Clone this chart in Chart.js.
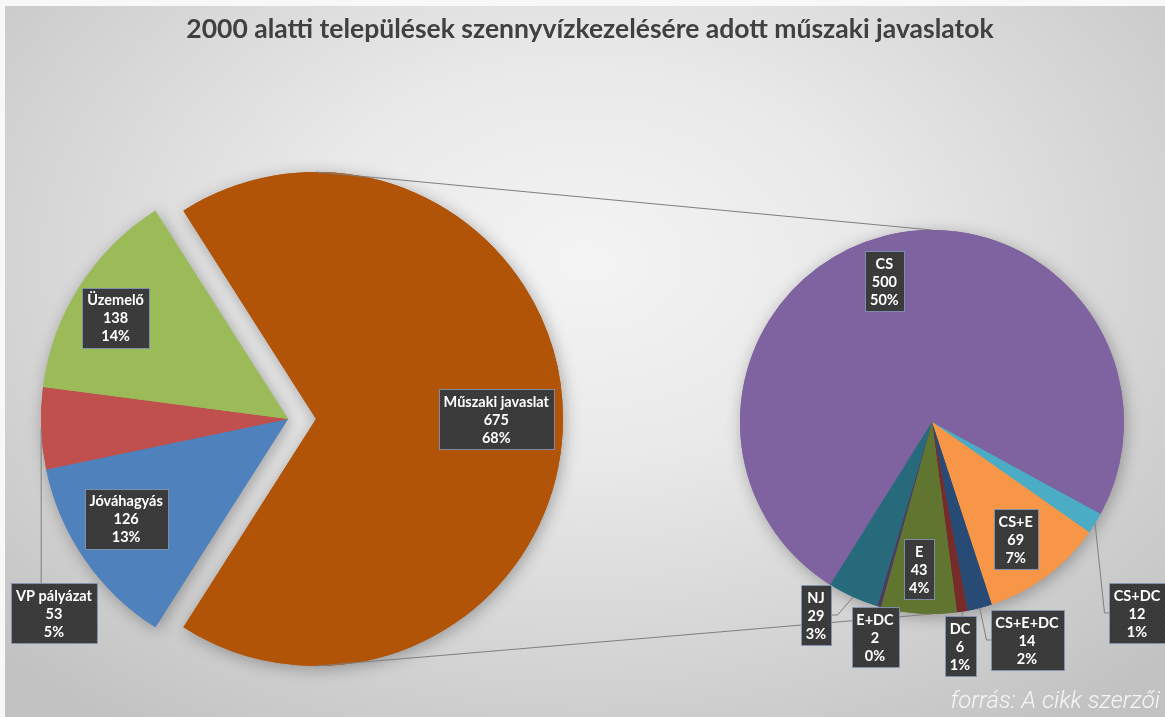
<!DOCTYPE html>
<html lang="hu">
<head>
<meta charset="utf-8">
<title>2000 alatti települések szennyvízkezelésére adott műszaki javaslatok</title>
<script src="https://cdn.jsdelivr.net/npm/chart.js@4.4.1/dist/chart.umd.min.js"></script>
<style>
  html, body { margin: 0; padding: 0; background: #fff; }
  #page { position: relative; width: 1165px; height: 717px; overflow: hidden; background: #f8f8f8; }
  #bg {
    position: absolute; left: 5px; top: 6px; right: 0; bottom: 0;
    background: radial-gradient(ellipse 70% 80% at 50% 36%, #f4f4f4 0%, #e9e9e9 35%, #d3d3d3 72%, #c2c2c2 100%);
  }
  canvas { position: absolute; left: 0; top: 0; }
  #title {
    position: absolute; left: 0; top: 12px; width: 1180px; text-align: center;
    font: bold 26.5px Lato, sans-serif; color: #404040;
  }
  #source {
    position: absolute; right: 5px; bottom: 3px;
    font: italic 300 24px Roboto, sans-serif; color: #f6f6f6;
  }
</style>
</head>
<body>
<div id="page">
  <div id="bg"></div>
  <canvas id="mainPie" width="1165" height="717"></canvas>
  <canvas id="detailPie" width="1165" height="717"></canvas>
  <div id="title">2000 alatti települések szennyvízkezelésére adott műszaki javaslatok</div>
  <div id="source">forrás: A cikk szerzői</div>
</div>
<script>
// ===================== ADATOK =====================
// bal oldali (fő) torta, az óramutató járásával megegyező sorrendben
const mainLabels = ['Műszaki javaslat', 'Jóváhagyás', 'VP pályázat', 'Üzemelő'];
const mainValues = [675, 126, 53, 138];
const mainPercents = ['68%', '13%', '5%', '14%'];

// jobb oldali torta: a "Műszaki javaslat" bontása
const detailLabels = ['CS', 'CS+DC', 'CS+E', 'CS+E+DC', 'DC', 'E', 'E+DC', 'NJ'];
const detailValues = [500, 12, 69, 14, 6, 43, 2, 29];
const detailPercents = ['50%', '1%', '7%', '2%', '1%', '4%', '0%', '3%'];

// ===================== STÍLUS =====================
const mainColors = ['#B25408', '#4F81BD', '#C0504D', '#9BBB59'];
const detailColors = ['#7F62A0', '#4BACC6', '#F79646', '#284B76', '#772C2A', '#5F7530', '#4D3B62', '#276A7C'];

// címkék helye: belül -> r (sugár arány) + da (szög igazítás, fok)
// kívül -> dx/dy a torta középpontjához képest + vezetővonal iránya
const mainPlacement = [
    { r: 0.73 },
    { r: 0.77, da: 3 },
    { dx: -234, dy: 194, leader: 'down' },
    { r: 0.81, da: -2 }
];
const detailPlacement = [
    { r: 0.775, da: -4 },
    { dx: 205, dy: 191, leader: 'left' },
    { r: 0.75, da: 1 },
    { dx: 95, dy: 218, leader: 'left' },
    { dx: 28, dy: 224, leader: 'down' },
    { r: 0.77, da: 1 },
    { dx: -57, dy: 215, leader: 'down' },
    { dx: -116, dy: 193, leader: 'right' }
];

const LINE_COLOR = '#7f7f7f';
const LABEL_FONT = 'bold 14.5px Lato, sans-serif';

// sötét, finoman pöttyözött címke háttér
function makeBoxPattern(ctx) {
    const pc = document.createElement('canvas');
    pc.width = 4; pc.height = 4;
    const p = pc.getContext('2d');
    p.fillStyle = '#393939';
    p.fillRect(0, 0, 4, 4);
    p.fillStyle = '#464646';
    p.fillRect(0, 0, 1, 1);
    p.fillRect(2, 2, 1, 1);
    return ctx.createPattern(pc, 'repeat');
}

function labelRect(ctx, cx, cy, lines) {
    ctx.font = LABEL_FONT;
    const w = Math.round(Math.max(...lines.map(t => ctx.measureText(t).width)) + 10);
    const h = 60;
    const left = Math.round(cx - w / 2) + 0.5;
    const top = Math.round(cy - h / 2) + 0.5;
    return { left, top, right: left + w, bottom: top + h, w, h, cx, cy };
}

function drawBox(ctx, rect, lines) {
    ctx.fillStyle = makeBoxPattern(ctx);
    ctx.fillRect(rect.left, rect.top, rect.w, rect.h);
    ctx.strokeStyle = 'rgba(130,150,185,0.85)';
    ctx.lineWidth = 1;
    ctx.strokeRect(rect.left, rect.top, rect.w, rect.h);
    ctx.fillStyle = '#ffffff';
    ctx.font = LABEL_FONT;
    ctx.textAlign = 'center';
    ctx.textBaseline = 'middle';
    lines.forEach((t, k) => ctx.fillText(t, rect.cx, rect.cy + (k - 1) * 18 + 1));
}

// ===================== PLUGINOK =====================
// kiemelt (kihúzott) szelet
const explodePlugin = {
    id: 'explode',
    afterDatasetUpdate(chart, args, opts) {
        if (!opts.distance) return;
        const arc = args.meta.data[opts.index || 0];
        const mid = (arc.startAngle + arc.endAngle) / 2;
        arc.x += Math.cos(mid) * opts.distance;
        arc.y += Math.sin(mid) * opts.distance;
    }
};

// lágy árnyék a torta körül
const shadowPlugin = {
    id: 'pieShadow',
    beforeDatasetsDraw(chart) {
        const ctx = chart.ctx;
        ctx.save();
        ctx.shadowColor = 'rgba(0,0,0,0.30)';
        ctx.shadowBlur = 16;
        ctx.shadowOffsetX = 2;
        ctx.shadowOffsetY = 3;
        chart.getDatasetMeta(0).data.forEach(arc => arc.draw(ctx));
        ctx.restore();
    }
};

function makeLabelPlugin(names, values, percents, placement) {
    return {
        id: 'boxLabels',
        afterDatasetsDraw(chart) {
            const ctx = chart.ctx;
            const arcs = chart.getDatasetMeta(0).data;
            ctx.save();
            arcs.forEach((arc, i) => {
                const pl = placement[i];
                const lines = [names[i], String(values[i]), percents[i]];
                const R = arc.outerRadius;
                const mid = (arc.startAngle + arc.endAngle) / 2;
                let cx, cy;
                if (pl.r !== undefined) {
                    const a = mid + (pl.da || 0) * Math.PI / 180;
                    cx = arc.x + Math.cos(a) * R * pl.r;
                    cy = arc.y + Math.sin(a) * R * pl.r;
                } else {
                    cx = arc.x + pl.dx;
                    cy = arc.y + pl.dy;
                }
                const rect = labelRect(ctx, cx, cy, lines);
                if (pl.leader) {
                    const ex = arc.x + Math.cos(mid) * R;
                    const ey = arc.y + Math.sin(mid) * R;
                    ctx.strokeStyle = LINE_COLOR;
                    ctx.lineWidth = 1;
                    ctx.beginPath();
                    ctx.moveTo(ex, ey);
                    if (pl.leader === 'down') {
                        ctx.lineTo(ex, rect.top);
                    } else if (pl.leader === 'left') {
                        ctx.lineTo(rect.left - 5, rect.cy);
                        ctx.lineTo(rect.left, rect.cy);
                    } else {
                        ctx.lineTo(rect.right + 6, rect.cy);
                        ctx.lineTo(rect.right, rect.cy);
                    }
                    ctx.stroke();
                }
                drawBox(ctx, rect, lines);
            });
            ctx.restore();
        }
    };
}

// összekötő vonalak a kiemelt szelet és a második torta között
const seriesLinesPlugin = {
    id: 'seriesLines',
    afterDatasetsDraw(chart) {
        if (!mainChart) return;
        const src = mainChart.getDatasetMeta(0).data[0];
        const dst = chart.getDatasetMeta(0).data[0];
        const ctx = chart.ctx;
        ctx.save();
        ctx.strokeStyle = LINE_COLOR;
        ctx.lineWidth = 1.2;
        ctx.beginPath();
        ctx.moveTo(src.x, src.y - src.outerRadius);
        ctx.lineTo(dst.x, dst.y - dst.outerRadius);
        ctx.moveTo(src.x, src.y + src.outerRadius);
        ctx.lineTo(dst.x, dst.y + dst.outerRadius);
        ctx.stroke();
        ctx.restore();
    }
};

// ===================== CHARTS =====================
const sumMain = mainValues.reduce((a, b) => a + b, 0);

const baseOptions = {
    responsive: false,
    animation: false,
    devicePixelRatio: 1,
    events: []
};

let mainChart = null;
mainChart = new Chart(document.getElementById('mainPie'), {
    type: 'pie',
    data: {
        labels: mainLabels,
        datasets: [{ data: mainValues, backgroundColor: mainColors, borderWidth: 0, hoverOffset: 0, hoverBorderWidth: 0 }]
    },
    options: {
        ...baseOptions,
        // az első szelet a 3 órás irány köré kerül
        rotation: 90 - mainValues[0] / sumMain * 180,
        layout: { padding: { left: 41, top: 172, right: 630, bottom: 51 } },
        plugins: {
            legend: { display: false },
            tooltip: { enabled: false },
            explode: { index: 0, distance: 28 }
        }
    },
    plugins: [explodePlugin, shadowPlugin, makeLabelPlugin(mainLabels, mainValues, mainPercents, mainPlacement)]
});

const detailChart = new Chart(document.getElementById('detailPie'), {
    type: 'pie',
    data: {
        labels: detailLabels,
        datasets: [{ data: detailValues, backgroundColor: detailColors, borderWidth: 0, hoverOffset: 0, hoverBorderWidth: 0 }]
    },
    options: {
        ...baseOptions,
        rotation: -148,
        layout: { padding: { left: 740, top: 230, right: 41, bottom: 103 } },
        plugins: {
            legend: { display: false },
            tooltip: { enabled: false }
        }
    },
    plugins: [shadowPlugin, seriesLinesPlugin, makeLabelPlugin(detailLabels, detailValues, detailPercents, detailPlacement)]
});
</script>
</body>
</html>
